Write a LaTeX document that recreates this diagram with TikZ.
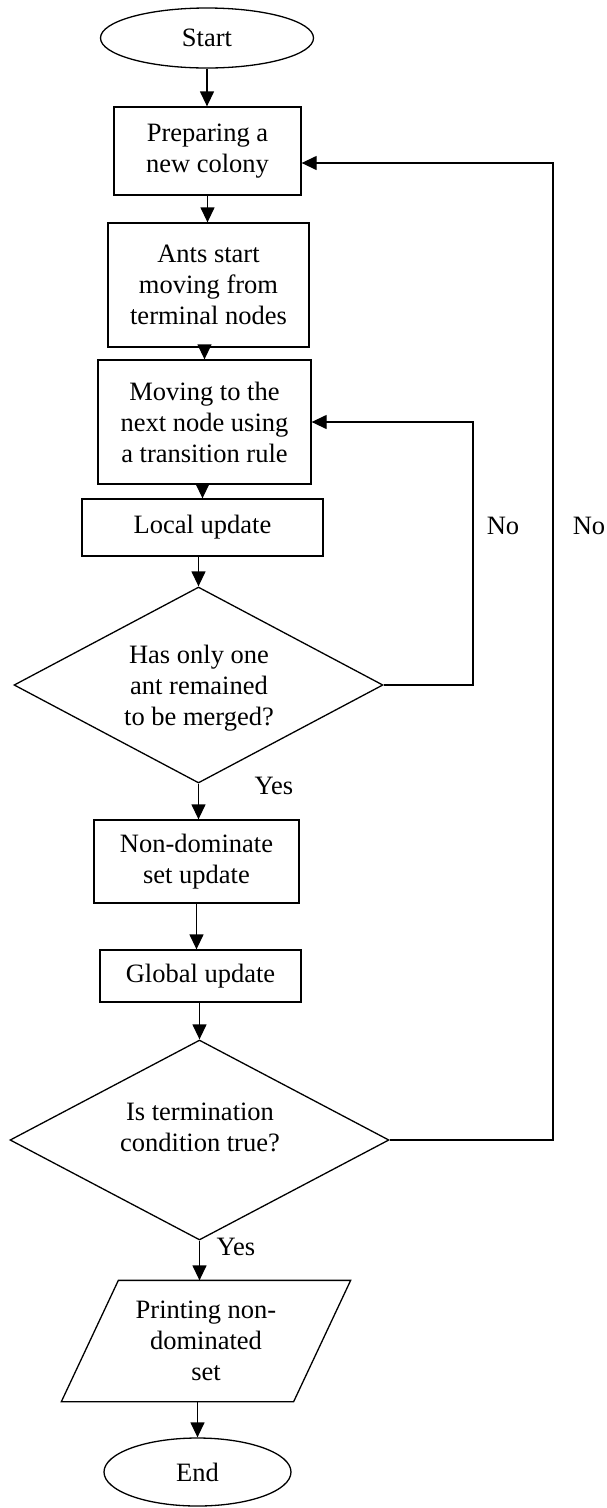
\documentclass[tikz,border=0pt]{standalone}
\usepackage{fontspec}
\setmainfont{Liberation Serif}
\usetikzlibrary{shapes.geometric,arrows.meta}
\begin{document}
\begin{tikzpicture}[x=1pt,y=-1pt, line width=1.3pt,
  font=\fontsize{26.5}{31}\selectfont,
  box/.style={draw, rectangle, align=center, inner sep=0pt},
  arr/.style={-{Triangle[length=15pt,width=14pt]}},
  term/.style={draw, ellipse, inner sep=0pt},
  dia/.style={draw, diamond, inner sep=0pt},
  lbl/.style={inner sep=0pt, align=center}]
\useasboundingbox (0,0) rectangle (607,1508);
\node[term, minimum width=213pt, minimum height=60pt] (start) at (207,38) {Start};
\node[box, minimum width=187pt, minimum height=88pt] (p1) at (207.5,151) {Preparing a\\new colony};
\node[box, minimum width=201pt, minimum height=124pt] (p2) at (208.5,285) {Ants start\\moving from\\terminal nodes};
\node[box, minimum width=213pt, minimum height=124pt] (p3) at (204.5,422) {Moving to the\\next node using\\a transition rule};
\node[box, minimum width=241pt, minimum height=57pt] (p4) at (202.5,527.5) {Local update};
\node[dia, minimum width=369pt, minimum height=196pt] (d1) at (198.5,685) {};
\node[lbl] (d1t) at (199,688) {Has only one\\ant remained\\to be merged?};
\node[box, minimum width=205pt, minimum height=83pt] (p5) at (196.5,861.5) {Non-dominate\\set update};
\node[box, minimum width=201pt, minimum height=52pt] (p6) at (200.5,976) {Global update};
\node[dia, minimum width=379pt, minimum height=200pt] (d2) at (199.5,1140) {};
\node[lbl] (d2t) at (200,1127) {Is termination\\condition true?};
\node[lbl, minimum width=231pt, minimum height=120pt] (pr) at (206,1341) {Printing non-\\dominated\\set};
\draw ([xshift=28.5pt]pr.north west) -- ([xshift=28.5pt]pr.north east) -- ([xshift=-28.5pt]pr.south east) -- ([xshift=-28.5pt]pr.south west) -- cycle;
\node[term, minimum width=187pt, minimum height=68pt] (end) at (197.5,1472) {End};

\node[lbl] (no1) at (503,526) {No};
\node[lbl] (no2) at (589,526) {No};
\node[lbl] (yes1) at (274,786) {Yes};
\node[lbl] (yes2) at (236,1247) {Yes};

\draw[arr] (start.south) -- (start.south |- p1.north);
\draw[arr] (p1.south) -- (p1.south |- p2.north);
\draw[arr] (p2.south -| p3.north) -- (p3.north);
\draw[arr] (p3.south -| p4.north) -- (p4.north);
\draw[arr] (p4.south -| d1.north) -- (d1.north);
\draw[arr] (d1.south) -- (d1.south |- p5.north);
\draw[arr] (p5.south) -- (p5.south |- p6.north);
\draw[arr] (p6.south -| d2.north) -- (d2.north);
\draw[arr] (d2.south) -- (d2.south |- pr.north);
\draw[arr] (end.north |- pr.south) -- (end.north);

\coordinate (c1) at (473,685);
\draw[arr] (d1.east) -- (c1) |- (p3.east);
\coordinate (c2) at (553,1140);
\coordinate (c2t) at (553,163);
\draw[arr] (d2.east) -- (c2) -- (c2t) -- (p1.east |- c2t);
\end{tikzpicture}
\end{document}
